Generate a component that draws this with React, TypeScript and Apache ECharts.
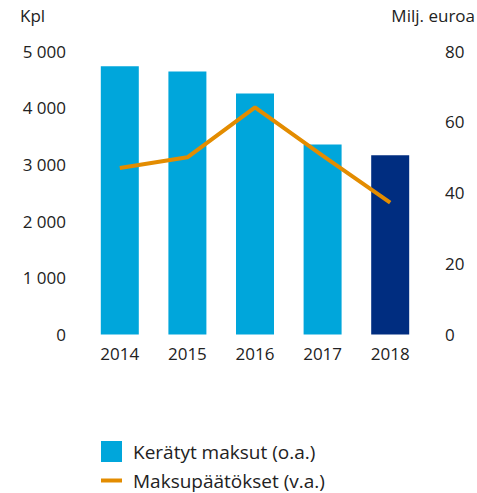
import React, { useEffect, useRef } from "react";
import * as echarts from "echarts";

const years = ["2014", "2015", "2016", "2017", "2018"];
const collectedFees = [4730, 4640, 4250, 3350, 3160];
const feeDecisions = [47, 50, 64.1, 50.5, 37.2];
const leftTicks = [0, 1000, 2000, 3000, 4000, 5000];
const rightTicks = [0, 20, 40, 60, 80];

const barName = "Kerätyt maksut (o.a.)";
const lineName = "Maksupäätökset (v.a.)";
const LIGHT = "#00a6db";
const DARK = "#002d80";
const ORANGE = "#e38c00";
const TEXT = "#222222";
const FONT = "Open Sans";

export default function App() {
  const ref = useRef<HTMLDivElement>(null);
  useEffect(() => {
    document.body.style.margin = "0";
    if (!ref.current) return;
    const chart = echarts.init(ref.current, undefined, { renderer: "svg" });
    chart.setOption({
      animation: false,
      textStyle: { fontFamily: FONT, color: TEXT },
      grid: { left: 86, right: 53, top: 51, bottom: 158.5, containLabel: false },
      graphic: [
        { type: "text", left: 20, top: 7, style: { text: "Kpl", font: `17px '${FONT}'`, fill: TEXT } },
        { type: "text", right: 2, top: 7, style: { text: "Milj. euroa", font: `17px '${FONT}'`, fill: TEXT } },
      ],
      legend: {
        orient: "vertical",
        left: 101,
        top: 441,
        padding: 0,
        itemWidth: 21,
        itemHeight: 21,
        itemGap: 9,
        textStyle: { fontFamily: FONT, fontSize: 19, color: TEXT, padding: [0, 0, 0, 6] },
        data: [
          { name: barName, icon: "rect", itemStyle: { color: LIGHT } },
          { name: lineName, icon: "path://M0,0 L21,0 L21,4 L0,4 Z", itemStyle: { color: ORANGE } },
        ],
      },
      xAxis: {
        type: "category",
        data: years,
        axisLine: { show: false },
        axisTick: { show: false },
        axisLabel: { fontSize: 17, color: TEXT, margin: 10, fontFamily: FONT },
      },
      yAxis: [
        {
          type: "value",
          min: leftTicks[0],
          max: leftTicks[leftTicks.length - 1],
          interval: 1000,
          splitLine: { show: false },
          axisLine: { show: false },
          axisTick: { show: false },
          axisLabel: {
            fontSize: 17,
            color: TEXT,
            margin: 20,
            fontFamily: FONT,
            formatter: (v: number) => String(v).replace(/\B(?=(\d{3})+(?!\d))/g, " "),
          },
        },
        {
          type: "value",
          min: rightTicks[0],
          max: rightTicks[rightTicks.length - 1],
          interval: 20,
          splitLine: { show: false },
          axisLine: { show: false },
          axisTick: { show: false },
          axisLabel: { fontSize: 17, color: TEXT, margin: 21, fontFamily: FONT },
        },
      ],
      series: [
        {
          name: barName,
          type: "bar",
          yAxisIndex: 0,
          barWidth: 38,
          itemStyle: { color: LIGHT },
          data: collectedFees.map((v, i) => ({
            value: v,
            itemStyle: { color: i === collectedFees.length - 1 ? DARK : LIGHT },
          })),
        },
        {
          name: lineName,
          type: "line",
          yAxisIndex: 1,
          symbol: "none",
          lineStyle: { color: ORANGE, width: 4 },
          itemStyle: { color: ORANGE },
          data: feeDecisions,
        },
      ],
    });
    return () => chart.dispose();
  }, []);
  return <div ref={ref} style={{ width: 477, height: 493 }} />;
}
